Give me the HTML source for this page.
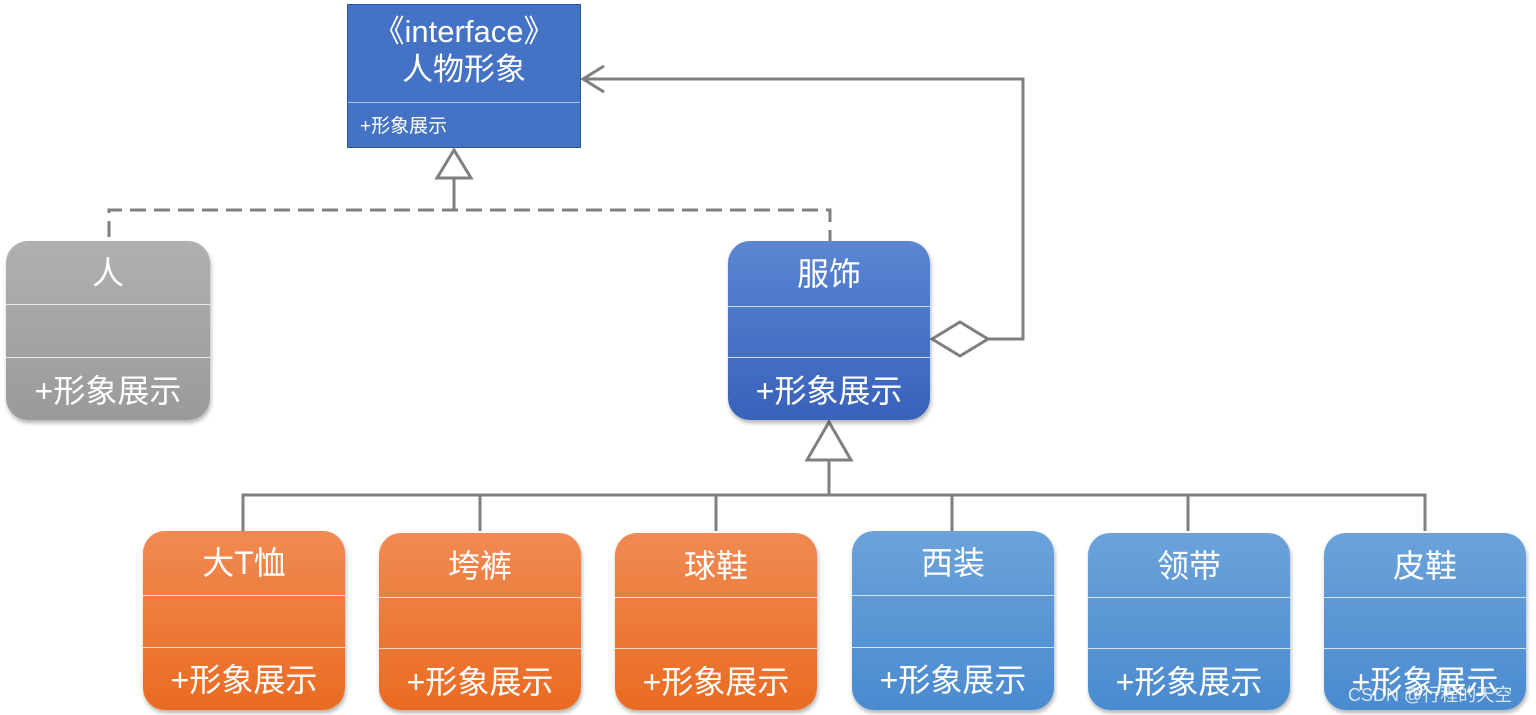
<!DOCTYPE html>
<html><head><meta charset="utf-8"><style>
html,body{margin:0;padding:0;background:#fff;}
body{width:1536px;height:715px;position:relative;overflow:hidden;font-family:"Liberation Sans","Noto Sans CJK SC",sans-serif;}
.b{position:absolute;border-radius:22px;color:#fff;box-shadow:1px 3px 4px rgba(0,0,0,0.3);overflow:hidden;}
.b .t{position:absolute;left:0;right:0;text-align:center;font-size:32px;line-height:40px;}
.b .d{position:absolute;left:0;right:0;height:1px;background:rgba(255,255,255,0.75);}
.gray{background:linear-gradient(#b0b0b0,#9a9a9a);}
.blue{background:linear-gradient(#5b86d2,#3862bb);}
.org{background:linear-gradient(#f08a52,#ea6b22);}
.lb{background:linear-gradient(#6ca2da,#4a8bcf);}
</style></head><body>
<svg width="1536" height="715" style="position:absolute;left:0;top:0" fill="none" stroke="#7f7f7f" stroke-width="3">
<!-- realization dashed -->
<path d="M109 237 V210 H830 V241" stroke-dasharray="16,8"/>
<path d="M454 210 V178"/>
<polygon points="454,150 437,178 471,178" fill="#fff"/>
<!-- aggregation -->
<path d="M988 339 H1023 V79 H583"/>
<path d="M604 66 L583 79 L604 92"/>
<polygon points="932,339 960,322 988,339 960,356" fill="#fff"/>
<!-- generalization -->
<polygon points="829,422 807,460 851,460" fill="#fff"/>
<path d="M829 460 V495"/>
<path d="M243 531 V495 H1425 V531 M480 495 V531 M716 495 V531 M952 495 V531 M1188 495 V531"/>
</svg>

<div style="position:absolute;left:347px;top:4px;width:232px;height:142px;background:#4472c4;border:1px solid #2f5597;color:#fff;">
 <div style="position:absolute;top:8px;left:0;right:0;text-align:center;font-size:31px;line-height:38px;">《interface》<br>人物形象</div>
 <div style="position:absolute;top:97px;left:0;right:0;height:1px;background:rgba(255,255,255,0.6)"></div>
 <div style="position:absolute;top:110px;left:12px;font-size:19px;line-height:24px;">+形象展示</div>
</div>

<div class="b gray" style="left:6px;top:241px;width:204px;height:179px;">
 <div class="t" style="top:12px">人</div><div class="d" style="top:63px"></div><div class="d" style="top:116px"></div>
 <div class="t" style="top:130px">+形象展示</div></div>

<div class="b blue" style="left:728px;top:241px;width:202px;height:179px;">
 <div class="t" style="top:13px">服饰</div><div class="d" style="top:65px"></div><div class="d" style="top:116px"></div>
 <div class="t" style="top:130px">+形象展示</div></div>

<div class="b org" style="left:143px;top:531px;width:202px;height:179px;"><div class="t" style="top:12px">大T恤</div><div class="d" style="top:64px"></div><div class="d" style="top:116px"></div><div class="t" style="top:129px">+形象展示</div></div>
<div class="b org" style="left:379px;top:533px;width:202px;height:177px;"><div class="t" style="top:13px">垮裤</div><div class="d" style="top:64px"></div><div class="d" style="top:115px"></div><div class="t" style="top:129px">+形象展示</div></div>
<div class="b org" style="left:615px;top:533px;width:202px;height:177px;"><div class="t" style="top:13px">球鞋</div><div class="d" style="top:64px"></div><div class="d" style="top:115px"></div><div class="t" style="top:129px">+形象展示</div></div>
<div class="b lb" style="left:852px;top:531px;width:202px;height:179px;"><div class="t" style="top:12px">西装</div><div class="d" style="top:64px"></div><div class="d" style="top:116px"></div><div class="t" style="top:129px">+形象展示</div></div>
<div class="b lb" style="left:1088px;top:533px;width:202px;height:177px;"><div class="t" style="top:13px">领带</div><div class="d" style="top:64px"></div><div class="d" style="top:115px"></div><div class="t" style="top:129px">+形象展示</div></div>
<div class="b lb" style="left:1324px;top:533px;width:202px;height:177px;"><div class="t" style="top:13px">皮鞋</div><div class="d" style="top:64px"></div><div class="d" style="top:115px"></div><div class="t" style="top:129px">+形象展示</div></div>

<div style="position:absolute;left:1348px;top:684px;font-size:18px;line-height:22px;color:rgba(255,255,255,0.8);">CSDN @行程的天空</div>
</body></html>
